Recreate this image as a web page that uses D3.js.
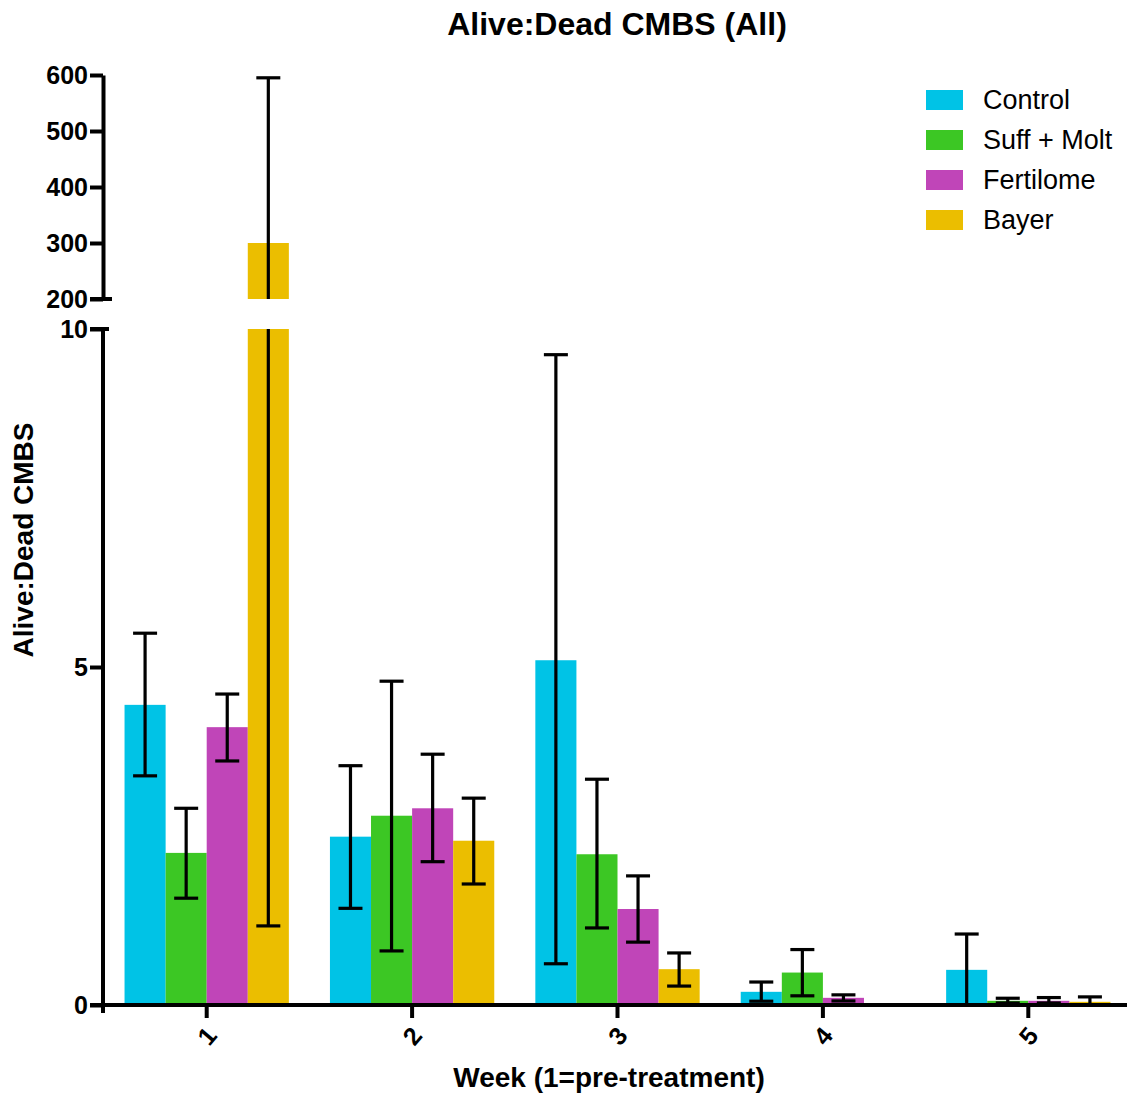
<!DOCTYPE html>
<html>
<head>
<meta charset="utf-8">
<script src="https://cdn.jsdelivr.net/npm/d3@7"></script>
<style>
  body { margin: 0; background: white; }
  text { font-family: "Liberation Sans", Arial, sans-serif; }
</style>
</head>
<body>
<div id="container"></div>
<script>
// data
const weeks = ["1", "2", "3", "4", "5"]
const groups = ["Control", "Suff + Molt", "Fertilome", "Bayer"]
const colors = ["#00c3e6", "#3cc724", "#c045b8", "#ebbe00"]

// mean, upper error, lower error per group (null = no bar)
const control = [[4.44, 5.50, 3.39], [2.49, 3.54, 1.43], [5.10, 9.62, 0.61], [0.195, 0.34, 0.056], [0.52, 1.05, 0]]
const suffMolt = [[2.25, 2.91, 1.58], [2.80, 4.79, 0.80], [2.23, 3.34, 1.14], [0.48, 0.82, 0.136], [0.062, 0.10, 0.03]]
const fertilome = [[4.11, 4.60, 3.61], [2.91, 3.71, 2.12], [1.42, 1.91, 0.93], [0.106, 0.15, 0.06], [0.062, 0.11, 0.03]]
const bayer = [[300, 595, 1.17], [2.43, 3.06, 1.79], [0.53, 0.77, 0.28], null, [0.047, 0.12, 0.0]]

const lowTicks = [0, 5, 10]
const highTicks = [200, 300, 400, 500, 600]

const w = 1127, h = 1095
const svg = d3.select("#container").append("svg").attr("width", w).attr("height", h).style("background-color", "white")

const series = [control, suffMolt, fertilome, bayer]
const rows = []
series.forEach((s, gi) => s.forEach((v, wi) => {
    if (v) rows.push({ group: groups[gi], week: weeks[wi], mean: v[0], hi: v[1], lo: v[2] })
}))

const x = d3.scaleBand().domain(weeks).range([104, 1131]).paddingInner(0.2).paddingOuter(0.1)
const x1 = d3.scaleBand().domain(groups).range([0, x.bandwidth()])
const color = d3.scaleOrdinal().domain(groups).range(colors)

// broken axis: low segment 0-10, high segment 200-600
const yLow = d3.scaleLinear().domain([0, 10]).range([1005, 329])
const yHigh = d3.scaleLinear().domain([200, 600]).range([299, 75])

const plot = svg.append("g")

// bars in low segment
plot.selectAll("rect.low")
    .data(rows)
    .enter()
    .append("rect")
    .attr("x", d => x(d.week) + x1(d.group))
    .attr("width", x1.bandwidth())
    .attr("y", d => yLow(Math.min(d.mean, 10)))
    .attr("height", d => yLow(0) - yLow(Math.min(d.mean, 10)))
    .attr("fill", d => color(d.group))

// bars continued in high segment
plot.selectAll("rect.high")
    .data(rows.filter(d => d.mean > 200))
    .enter()
    .append("rect")
    .attr("x", d => x(d.week) + x1(d.group))
    .attr("width", x1.bandwidth())
    .attr("y", d => yHigh(d.mean))
    .attr("height", d => yHigh(200) - yHigh(d.mean))
    .attr("fill", d => color(d.group))

// error bars
const cap = 12
const errs = plot.selectAll("g.err").data(rows).enter().append("g")
    .attr("stroke", "black").attr("stroke-width", 3.2)
function ySeg(v) { return v > 10 ? yHigh(v) : yLow(v) }
errs.each(function (d) {
    const g = d3.select(this)
    const cx = x(d.week) + x1(d.group) + x1.bandwidth() / 2
    if (d.hi > 10) {
        g.append("line").attr("x1", cx).attr("x2", cx).attr("y1", yHigh(d.hi)).attr("y2", yHigh(200))
        g.append("line").attr("x1", cx).attr("x2", cx).attr("y1", yLow(10)).attr("y2", yLow(d.lo))
    } else {
        g.append("line").attr("x1", cx).attr("x2", cx).attr("y1", ySeg(d.hi)).attr("y2", ySeg(d.lo))
    }
    g.append("line").attr("x1", cx - cap).attr("x2", cx + cap).attr("y1", ySeg(d.hi)).attr("y2", ySeg(d.hi))
    if (d.lo > 0) g.append("line").attr("x1", cx - cap).attr("x2", cx + cap).attr("y1", ySeg(d.lo)).attr("y2", ySeg(d.lo))
})

// axes
function styleAxis(g) {
    g.select(".domain").attr("stroke-width", 4)
    g.selectAll(".tick line").attr("stroke-width", 4)
    g.selectAll(".tick text").attr("font-size", 25).attr("font-weight", "bold").attr("font-family", "Liberation Sans, Arial, sans-serif")
}

const axLow = svg.append("g").attr("transform", "translate(103,0)")
    .call(d3.axisLeft(yLow).tickValues(lowTicks).tickSize(13).tickPadding(2).tickSizeOuter(0))
styleAxis(axLow)
axLow.select(".domain").attr("d", `M0,${yLow(10)}V${yLow(0) + 8}`)
// break mark at the top of the low segment
axLow.append("line").attr("x1", -13).attr("x2", 6).attr("y1", yLow(10)).attr("y2", yLow(10)).attr("stroke", "black").attr("stroke-width", 4)

const axHigh = svg.append("g").attr("transform", "translate(103,0)")
    .call(d3.axisLeft(yHigh).tickValues(highTicks).tickSize(13).tickPadding(2).tickSizeOuter(0))
styleAxis(axHigh)
axHigh.append("line").attr("x1", -13).attr("x2", 9).attr("y1", yHigh(200)).attr("y2", yHigh(200)).attr("stroke", "black").attr("stroke-width", 4)

const axX = svg.append("g").attr("transform", `translate(0,${yLow(0)})`)
    .call(d3.axisBottom(x).tickSize(13).tickSizeOuter(0))
styleAxis(axX)
axX.select(".domain").attr("d", `M90,0H${w}`)
axX.selectAll(".tick text")
    .attr("y", 0).attr("dy", 0)
    .attr("text-anchor", "middle")
    .attr("dominant-baseline", "central")
    .attr("transform", "translate(0,31) rotate(-50)")

// titles
svg.append("text").attr("x", 617).attr("y", 35).attr("text-anchor", "middle")
    .attr("font-size", 32).attr("font-weight", "bold").text("Alive:Dead CMBS (All)")
svg.append("text").attr("x", 609).attr("y", 1087).attr("text-anchor", "middle")
    .attr("font-size", 28).attr("font-weight", "bold").text("Week (1=pre-treatment)")
svg.append("text").attr("transform", "translate(33,540) rotate(-90)").attr("text-anchor", "middle")
    .attr("font-size", 28).attr("font-weight", "bold").text("Alive:Dead CMBS")

// legend
const legend = svg.selectAll("g.legend").data(groups).enter().append("g")
    .attr("transform", (d, i) => `translate(926,${90 + i * 40})`)
legend.append("rect").attr("width", 37).attr("height", 20).attr("fill", d => color(d))
legend.append("text").attr("x", 57).attr("y", 10).attr("dy", "0.35em")
    .attr("font-size", 27).text(d => d)
</script>
</body>
</html>
